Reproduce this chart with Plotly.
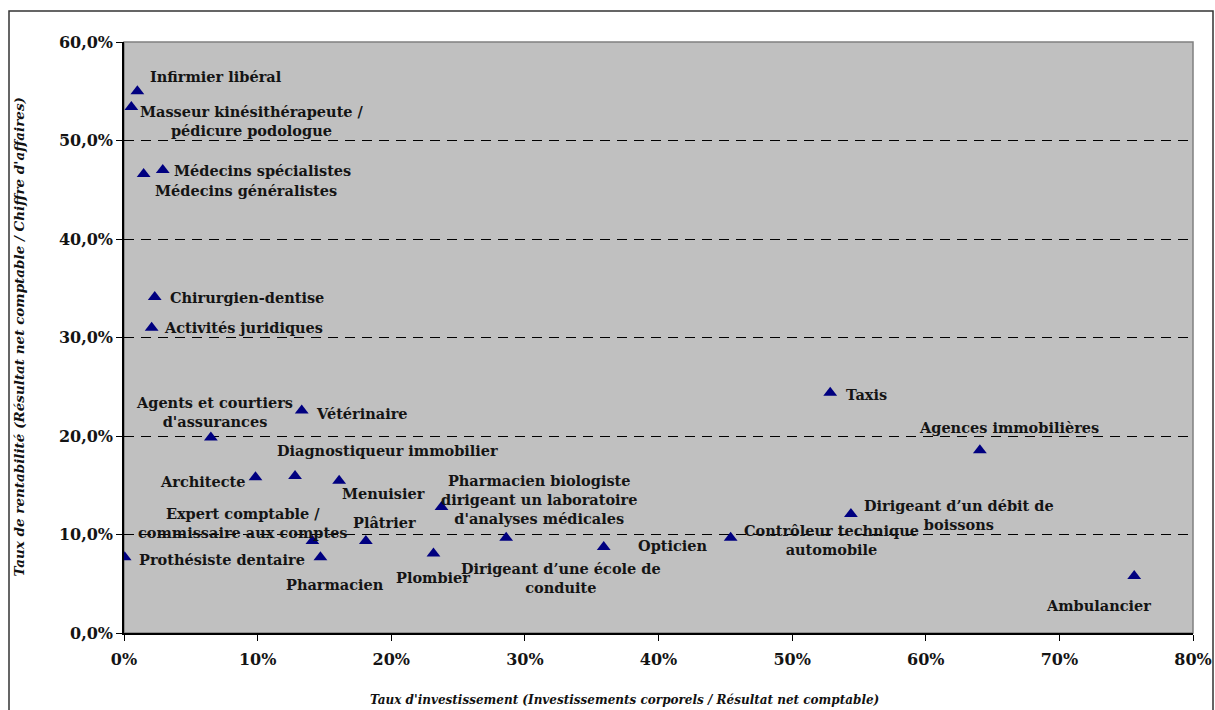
import plotly.graph_objects as go

# Métiers : taux d'investissement (x) et taux de rentabilité (y)
professions = [
    "Infirmier libéral",
    "Masseur kinésithérapeute /<br>pédicure podologue",
    "Médecins spécialistes",
    "Médecins généralistes",
    "Chirurgien-dentise",
    "Activités juridiques",
    "Agents et courtiers<br>d'assurances",
    "Vétérinaire",
    "Architecte",
    "Diagnostiqueur immobilier",
    "Menuisier",
    "Pharmacien biologiste<br>dirigeant un laboratoire<br>d'analyses médicales",
    "Expert comptable /<br>commissaire aux comptes",
    "Plâtrier",
    "Prothésiste dentaire",
    "Pharmacien",
    "Plombier",
    "Dirigeant d’une école de<br>conduite",
    "Opticien",
    "Contrôleur technique<br>automobile",
    "Dirigeant d’un débit de<br>boissons",
    "Taxis",
    "Agences immobilières",
    "Ambulancier",
]
taux_investissement = [
    0.010, 0.0055, 0.029, 0.0147, 0.023, 0.0207, 0.065, 0.133, 0.0984, 0.128,
    0.161, 0.2376, 0.141, 0.181, 0.0005, 0.147, 0.2316, 0.286, 0.359, 0.454,
    0.544, 0.5285, 0.6405, 0.756,
]
taux_rentabilite = [
    0.550, 0.534, 0.470, 0.466, 0.341, 0.310, 0.1985, 0.226, 0.158, 0.1595,
    0.1545, 0.128, 0.0933, 0.0933, 0.0768, 0.077, 0.0808, 0.0967, 0.0872, 0.0967,
    0.1207, 0.244, 0.1856, 0.0578,
]

# Décalage des étiquettes (pixels, droite / bas) par rapport au marqueur
label_dx = [79, 121, 100, 102, 92, 92, 4, 60, -53, 92, 44, 98, -69, 19, 97, 15, 0, 55, 69, 101, 108, 36, 29, -36]
label_dy = [-15, 14, 0, 17, 0, 0, -25, 3, 4, -25, 13, -7, -18, -19, 2, 27, 24, 40, -2, 2, 1, 2, -23, 29]

FONT = "DejaVu Serif"
W, H = 1215, 710
L, R, T, B = 124, 22, 42, 77
pw, ph = W - L - R, H - T - B

fig = go.Figure()
fig.add_trace(go.Scatter(
    x=taux_investissement, y=taux_rentabilite, mode="markers",
    marker=dict(symbol="triangle-up", size=12, color="#000080"),
    hoverinfo="skip", showlegend=False,
))

annotations = []
for name, xv, yv, dx, dy in zip(professions, taux_investissement, taux_rentabilite, label_dx, label_dy):
    annotations.append(dict(
        x=xv, y=yv, xref="x", yref="y", text=name, showarrow=False,
        xshift=dx, yshift=-dy, xanchor="center", yanchor="middle", align="center",
        font=dict(family=FONT, size=14.5, color="#141414", weight="bold"),
    ))

annotations.append(dict(
    x=(624 - L) / pw, y=(H - 700 - B) / ph, xref="paper", yref="paper",
    text="Taux d'investissement (Investissements corporels / Résultat net comptable)",
    showarrow=False, xanchor="center", yanchor="middle",
    font=dict(family=FONT, size=12, color="#111", weight="bold", style="italic"),
))
annotations.append(dict(
    x=(18 - L) / pw, y=0.5, xref="paper", yref="paper", textangle=-90,
    text="Taux de rentabilité (Résultat net comptable / Chiffre d'affaires)",
    showarrow=False, xanchor="center", yanchor="middle",
    font=dict(family=FONT, size=13.5, color="#111", weight="bold", style="italic"),
))

shapes = [
    # cadre gris de la zone de tracé (haut et droite)
    dict(type="rect", xref="paper", yref="paper", x0=0, y0=0, x1=1, y1=1,
         line=dict(color="#808080", width=1.5), layer="below"),
    # cadre extérieur du graphique
    dict(type="rect", xref="paper", yref="paper",
         x0=(9 - L) / pw, x1=(1213 - L) / pw,
         y0=(H - 730 - B) / ph, y1=(H - 11 - B) / ph,
         line=dict(color="#333333", width=1.5)),
]

fig.update_layout(
    width=W, height=H,
    margin=dict(l=L, r=R, t=T, b=B, autoexpand=False),
    paper_bgcolor="white", plot_bgcolor="#C0C0C0",
    separators=", ",
    annotations=annotations, shapes=shapes,
    xaxis=dict(
        range=[0, 0.8], dtick=0.1, tickformat=".0%", showgrid=False, zeroline=False,
        automargin=False, ticklabelstandoff=5,
        showline=True, linecolor="black", linewidth=1.5,
        ticks="outside", ticklen=6, tickcolor="black", tickwidth=1,
        tickfont=dict(family=FONT, size=16, color="#141414", weight="bold"),
    ),
    yaxis=dict(
        range=[0, 0.6], dtick=0.1, tickformat=".1%", zeroline=False,
        automargin=False,
        showgrid=True, gridcolor="black", gridwidth=1, griddash="10px,7px",
        showline=True, linecolor="black", linewidth=1.5,
        ticks="outside", ticklen=6, tickcolor="black", tickwidth=1,
        tickfont=dict(family=FONT, size=16, color="#141414", weight="bold"),
    ),
)

fig.write_html("out.html")
